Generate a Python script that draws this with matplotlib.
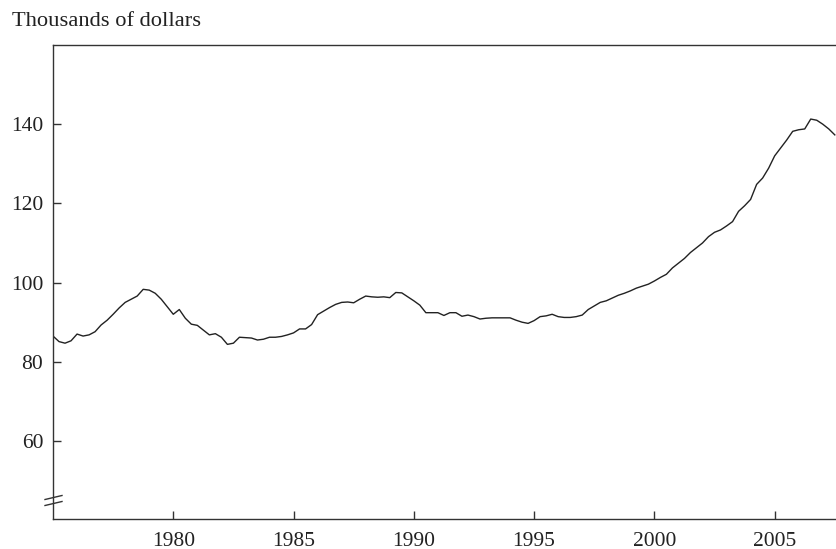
import numpy as np
import matplotlib
matplotlib.use("Agg")
import matplotlib.pyplot as plt

# Quarterly values (thousands of dollars), 1975Q1 .. 2007Q3
start_year = 1975.0
values = [
    86.5, 85.1, 84.7, 85.3, 87.0, 86.5, 86.8, 87.6,   # 1975-1976
    89.3, 90.5, 92.0, 93.6, 95.0, 95.8, 96.6, 98.3,   # 1977-1978
    98.1, 97.3, 95.8, 93.9, 92.0, 93.2, 91.0, 89.5,   # 1979-1980
    89.2, 88.0, 86.8, 87.1, 86.2, 84.4, 84.7, 86.2,   # 1981-1982
    86.1, 86.0, 85.5, 85.7, 86.2, 86.2, 86.4, 86.8,   # 1983-1984
    87.3, 88.3, 88.3, 89.4, 91.9, 92.8, 93.7, 94.5,   # 1985-1986
    95.0, 95.1, 94.9, 95.8, 96.6, 96.4, 96.3, 96.4,   # 1987-1988
    96.2, 97.5, 97.4, 96.4, 95.4, 94.3, 92.4, 92.4,   # 1989-1990
    92.4, 91.7, 92.4, 92.4, 91.5, 91.8, 91.4, 90.8,   # 1991-1992
    91.0, 91.1, 91.1, 91.1, 91.1, 90.5, 90.0, 89.7,   # 1993-1994
    90.4, 91.4, 91.6, 92.0, 91.4, 91.2, 91.2, 91.4,   # 1995-1996
    91.8, 93.2, 94.1, 95.0, 95.4, 96.1, 96.8, 97.3,   # 1997-1998
    97.9, 98.6, 99.1, 99.6, 100.4, 101.3, 102.1, 103.7,  # 1999-2000
    104.9, 106.1, 107.6, 108.8, 110.0, 111.6, 112.7, 113.3,  # 2001-2002
    114.3, 115.4, 118.0, 119.4, 121.0, 124.8, 126.4, 128.9,  # 2003-2004
    132.0, 134.0, 136.0, 138.2, 138.6, 138.8, 141.3, 141.0,  # 2005-2006
    140.0, 138.8, 137.3,                                   # 2007
]
years = start_year + 0.25 * np.arange(len(values))

y_ticks = [60, 80, 100, 120, 140]
x_ticks = [1980, 1985, 1990, 1995, 2000, 2005]
y_label = "Thousands of dollars"

plt.rcParams['font.family'] = ['Liberation Serif', 'DejaVu Serif']

fig = plt.figure(figsize=(8.36, 5.49), dpi=100)
ax = fig.add_axes([53/836, 30/549, 1 - 53/836, (519-45)/549])

ax.plot(years, values, color='#222222', lw=1.0)

ax.set_xlim(1975.0, 2007.55)
ax.set_ylim(40.3, 160.0)
ax.set_xticks(x_ticks)
ax.set_yticks(y_ticks)
ax.tick_params(direction='in', length=6, width=1.0, color='#333333',
               labelsize=15.5, labelcolor='#222222')
ax.tick_params(axis='y', pad=7)
ax.tick_params(axis='x', pad=9)

for s in ['left', 'top', 'bottom']:
    ax.spines[s].set_linewidth(1.0)
    ax.spines[s].set_color('#333333')
ax.spines['right'].set_visible(False)

fig.text(12/836, 1 - 26.5/549, y_label, fontsize=16.2, color='#222222',
         ha='left', va='baseline')

# axis break marks on left spine
def fig_pt(px, py):
    return px / 836, 1 - py / 549

for (x0, y0, x1, y1) in [(45, 499.5, 62, 495.5), (45, 505.5, 62, 501.5)]:
    a = fig_pt(x0, y0)
    b = fig_pt(x1, y1)
    fig.add_artist(plt.Line2D([a[0], b[0]], [a[1], b[1]], color='#333333',
                              lw=1.0, transform=fig.transFigure))

fig.savefig("out.png", dpi=100)
